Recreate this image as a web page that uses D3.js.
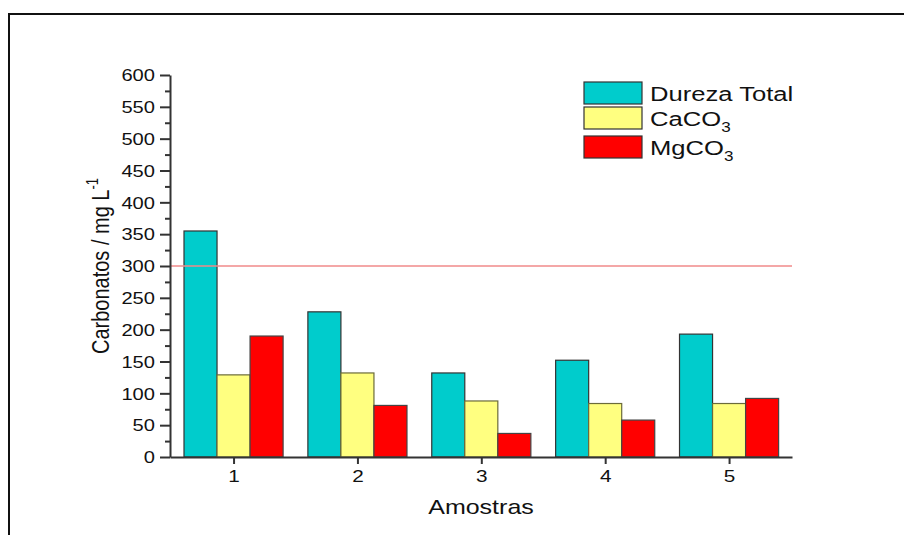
<!DOCTYPE html>
<html><head><meta charset="utf-8">
<script src="https://cdn.jsdelivr.net/npm/d3@7"></script>
<style>
html,body{margin:0;padding:0;background:#fff;}
svg{display:block;font-family:"Liberation Sans",Arial,sans-serif;}
</style></head>
<body>
<svg id="chart" width="904" height="535"></svg>
<script>
const categories = [1, 2, 3, 4, 5];
const durezaTotal = [355, 228, 132, 152, 193];
const caco3 = [129, 132, 88, 84, 84];
const mgco3 = [190, 81, 37, 58, 92];
const yTicks = [0, 50, 100, 150, 200, 250, 300, 350, 400, 450, 500, 550, 600];
const yMinorTicks = [25, 75, 125, 175, 225, 275, 325, 375, 425, 475, 525, 575];
const limitValue = 300;
const seriesNames = ["Dureza Total", "CaCO", "MgCO"];
const seriesSubs = ["", "3", "3"];
const seriesColors = ["#00CCCC", "#FFFF80", "#FF0000"];
const seriesStrokes = ["#333333", "#6b6b3a", "#444444"];
const seriesData = [durezaTotal, caco3, mgco3];

(function () {
const svg = d3.select("#chart");
const SX = 1.22; // horizontal stretch of text in the reference
const pLeft = 170, pRight = 792, pTop = 75, pBottom = 457;

// frame (top & left)
svg.append("path").attr("d", "M9,535 V14 H904").attr("fill", "none")
  .attr("stroke", "#111").attr("stroke-width", 2);

const x = d3.scaleLinear().domain([0.487, 5.508]).range([pLeft, pRight]);
const y = d3.scaleLinear().domain([0, 600]).range([pBottom, pTop]);
const groupW = 0.8;
const barW = x(groupW / 3) - x(0);

// bars
seriesData.forEach((vals, s) => {
  svg.append("g").selectAll("rect").data(vals).join("rect")
    .attr("x", (d, i) => x(categories[i] - groupW / 2) + s * barW)
    .attr("y", d => y(d))
    .attr("width", barW)
    .attr("height", d => y(0) - y(d))
    .attr("fill", seriesColors[s])
    .attr("stroke", seriesStrokes[s])
    .attr("stroke-width", 1.2);
});

// limit line
svg.append("line")
  .attr("x1", pLeft).attr("x2", pRight)
  .attr("y1", y(limitValue)).attr("y2", y(limitValue))
  .attr("stroke", "#F08A8A").attr("stroke-width", 1.3);

// y axis
const gy = svg.append("g").attr("transform", `translate(${pLeft},0)`)
  .call(d3.axisLeft(y).tickValues(yTicks).tickSize(10).tickSizeOuter(0).tickFormat(d3.format("d")));
svg.append("g").attr("transform", `translate(${pLeft},0)`)
  .call(d3.axisLeft(y).tickValues(yMinorTicks).tickSize(5).tickSizeOuter(0).tickFormat(""))
  .select(".domain").remove();
gy.selectAll("text")
  .attr("x", null).attr("dy", null)
  .attr("transform", `translate(-15,5.8) scale(${SX},1)`)
  .attr("font-size", 16.5).attr("fill", "#111")
  .style("font-family", '"Liberation Sans",Arial,sans-serif');

// x axis
const gx = svg.append("g").attr("transform", `translate(0,${pBottom})`)
  .call(d3.axisBottom(x).tickValues(categories).tickSize(7).tickSizeOuter(0).tickFormat(d3.format("d")));
gx.selectAll("text")
  .attr("y", null).attr("dy", null)
  .attr("transform", `translate(0,25) scale(${SX},1)`)
  .attr("font-size", 17).attr("fill", "#111")
  .style("font-family", '"Liberation Sans",Arial,sans-serif');

svg.selectAll(".domain, .tick line").attr("stroke", "#333").attr("stroke-width", 2);

// axis titles
svg.append("text")
  .attr("transform", `translate(${(pLeft + pRight) / 2},514) scale(${SX},1)`)
  .attr("text-anchor", "middle").attr("font-size", 20.5).attr("fill", "#111")
  .text("Amostras");

const yt = svg.append("text")
  .attr("transform", `translate(109,266) scale(${SX},1) rotate(-90)`)
  .attr("text-anchor", "middle").attr("font-size", 20).attr("fill", "#111");
yt.append("tspan").text("Carbonatos / mg L");
yt.append("tspan").attr("font-size", 13).attr("dy", -9).text("-1");

// legend
const legY = seriesNames.map((n, i) => 82 + i * 25 + (i > 1 ? 4 : 0));
seriesNames.forEach((name, i) => {
  svg.append("rect").attr("x", 584).attr("y", legY[i]).attr("width", 58).attr("height", 22)
    .attr("fill", seriesColors[i]).attr("stroke", "#333").attr("stroke-width", 1.2);
  const t = svg.append("text")
    .attr("transform", `translate(650,${legY[i] + 18.5}) scale(${SX},1)`)
    .attr("font-size", 21).attr("fill", "#111");
  t.append("tspan").text(name);
  if (seriesSubs[i]) t.append("tspan").attr("font-size", 14).attr("dy", 6).text(seriesSubs[i]);
});
})();
</script>
</body></html>
